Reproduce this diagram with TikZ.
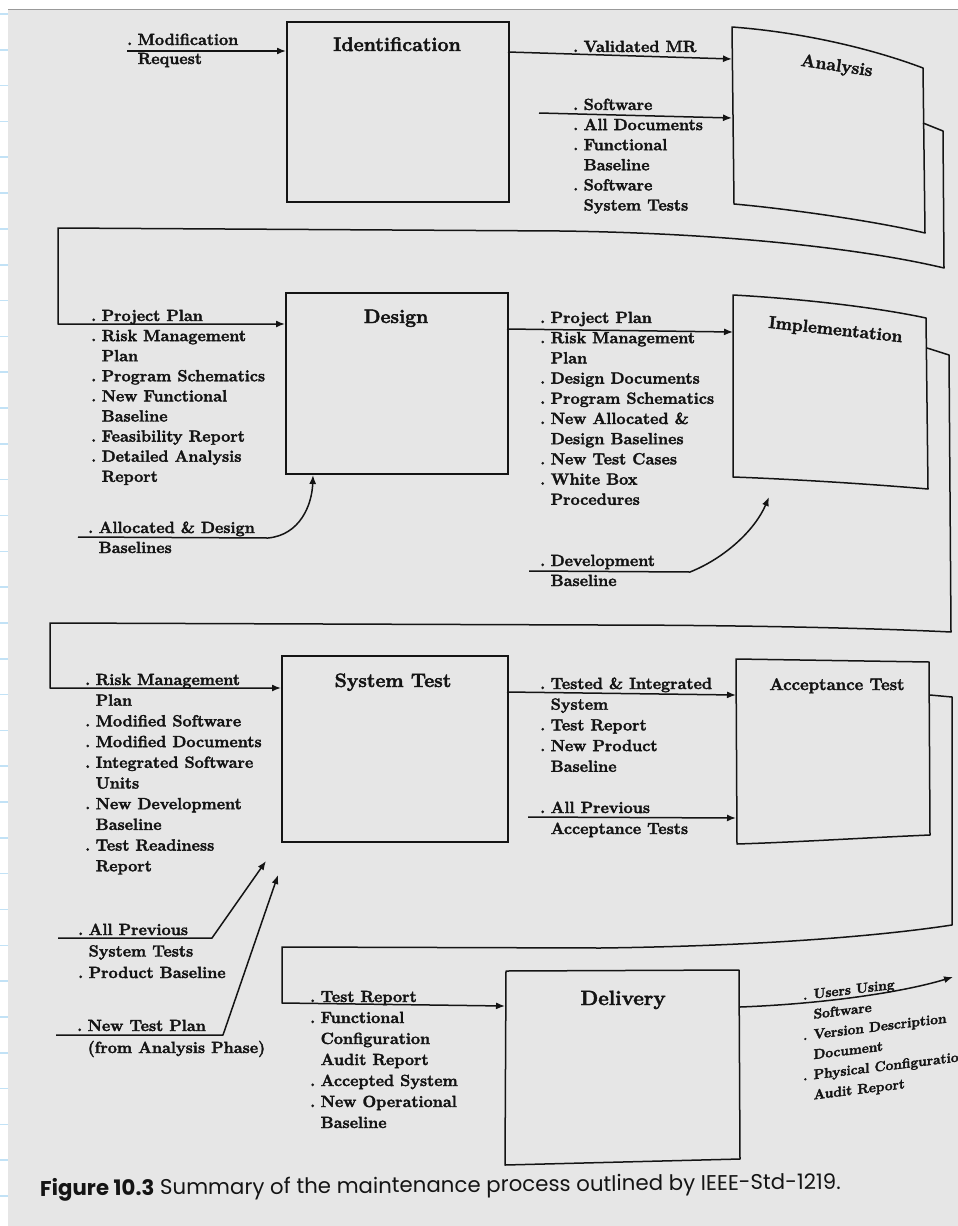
\documentclass[tikz,border=0pt]{standalone}
\usepackage{fontspec}
\newfontfamily\capfont{Poppins}
\newfontfamily\itf{Latin Modern Roman}[BoldFeatures={FakeBold=2.2}]
\usetikzlibrary{arrows.meta}
\definecolor{bg}{HTML}{E6E6E6}
\definecolor{ink}{HTML}{141414}
\definecolor{tickc}{HTML}{C2E2F6}
\newcommand{\dt}{\makebox[10.5pt][l]{.}}
\newcommand{\ct}{\hspace*{10.5pt}}
\newcommand{\fs}[2]{\itf\fontsize{#1}{#2}\selectfont\bfseries}
\newcommand{\lines}[1]{\begin{tabular}[t]{@{}l@{}}#1\end{tabular}}
\begin{document}
\begin{tikzpicture}[x=1pt,y=-1pt,
  ln/.style={draw=ink, line width=1.5pt, line join=round},
  arr/.style={ln, -{Latex[length=9pt,width=7pt]}},
  boxn/.style={draw=ink, line width=1.5pt, anchor=north west, inner sep=0pt},
  lst/.style={anchor=base west, inner sep=0pt, text=ink},
  ttl/.style={anchor=base, inner sep=0pt, text=ink},
  tickl/.style={draw=tickc, line width=1.6pt}]
\useasboundingbox (0,0) rectangle (958,1226);
\fill[white] (0,0) rectangle (958,1226);
\fill[bg] (8,10) rectangle (958,1226);
\draw[black!40, line width=1pt] (8,9.5) -- (958,9.5);
\foreach \i in {0,...,33} \draw[tickl] (0,14+35.82*\i) -- (8,14+35.82*\i);

% ---------- boxes ----------
\node[boxn, minimum width=222pt, minimum height=180pt] (ident) at (286,21) {};
\node[boxn, minimum width=222pt, minimum height=181pt] (design) at (285,292) {};
\node[boxn, minimum width=226pt, minimum height=186pt] (systest) at (281,655) {};

% Analysis (curved page with shadow)
\coordinate (anTL) at (732,27); \coordinate (anTR) at (923,68);
\coordinate (anBR) at (925,233); \coordinate (anBL) at (734,204);
\draw[ln] (anTL) .. controls (800,32) and (870,48) .. (anTR) -- (anBR)
  .. controls (870,220) and (780,208) .. (anBL) -- cycle;
\coordinate (anS1) at (923,123); \coordinate (anS2) at (943,131);
\coordinate (anS3) at (944,268); \coordinate (r1m) at (560,231);
\coordinate (r1a) at (58,228); \coordinate (r1b) at (58,324);
\draw[arr] (anS1) -- (anS2) -- (anS3) .. controls (860,248) and (720,233) .. (r1m)
  -- (r1a) -- (r1b) -- (r1b -| design.west);

% Implementation
\coordinate (imTL) at (733,295); \coordinate (imTR) at (926,318);
\coordinate (imBR) at (928,489); \coordinate (imBL) at (733,477);
\draw[ln] (imTL) .. controls (790,298) and (870,306) .. (imTR) -- (imBR)
  .. controls (870,484) and (790,479) .. (imBL) -- cycle;
\coordinate (imS1) at (927,348); \coordinate (imS2) at (949,355);
\coordinate (imS3) at (951,632); \coordinate (r2m) at (600,625);
\coordinate (r2a) at (50,623); \coordinate (r2b) at (50,688);
\draw[arr] (imS1) -- (imS2) -- (imS3) .. controls (850,627) and (700,625) .. (r2m)
  -- (r2a) -- (r2b) -- (r2b -| systest.west);

% Acceptance Test
\coordinate (acTL) at (736,659); \coordinate (acTR) at (929,662);
\coordinate (acBR) at (930,835); \coordinate (acBL) at (737,844);
\draw[ln] (acTL) -- (acTR) -- (acBR) .. controls (860,838) and (800,842) .. (acBL) -- cycle;
\coordinate (acS1) at (930,695); \coordinate (acS2) at (952,697);
\coordinate (acS3) at (952,925); \coordinate (r3m) at (600,948);
\coordinate (r3a) at (282,947); \coordinate (r3b) at (282,1003);
\coordinate (dlIn) at (505,1006);

% Delivery
\coordinate (dlTL) at (506,971); \coordinate (dlTR) at (739,970);
\coordinate (dlBR) at (740,1159); \coordinate (dlBL) at (505,1165);
\draw[ln] (dlTL) -- (dlTR) -- (dlBR) -- (dlBL) -- cycle;
\draw[arr] (acS1) -- (acS2) -- (acS3) .. controls (880,936) and (760,946) .. (r3m)
  -- (r3a) -- (r3b) -- (dlIn);

% ---------- titles ----------
\node[ttl, font=\fs{19.6}{24}] (tIdent) at (397,51) {Identification};
\node[ttl, font=\fs{17.5}{21}, rotate=-8.5] (tAnal) at (836,71) {Analysis};
\node[ttl, font=\fs{19.4}{24}] (tDesign) at (396,323) {Design};
\node[ttl, font=\fs{17.3}{21}, rotate=-6.2] (tImpl) at (835,335) {Implementation};
\node[ttl, font=\fs{19.4}{24}] (tSys) at (393,687) {System Test};
\node[ttl, font=\fs{16.8}{21}] (tAcc) at (837,690) {Acceptance Test};
\node[ttl, font=\fs{20.6}{24}] (tDel) at (623,1005) {Delivery};

% ---------- connectors ----------
\coordinate (modS) at (127,51);
\draw[arr] (modS) -- (modS -| ident.west);
\coordinate (valS) at (508,52); \coordinate (valE) at (732,59);
\draw[arr] (valS) -- (valE);
\coordinate (swS) at (539,113); \coordinate (swE) at (732,118);
\draw[arr] (swS) -- (swE);
\coordinate (dsS) at (507,329); \coordinate (dsE) at (733,332);
\draw[arr] (dsS) -- (dsE);
\coordinate (alS) at (78,537); \coordinate (alK) at (268,538); \coordinate (alE) at (313,475);
\draw[arr] (alS) -- (alK) .. controls (300,535) and (312,505) .. (alE);
\coordinate (dvS) at (529,571); \coordinate (dvK) at (690,572); \coordinate (dvE) at (769,497);
\draw[arr] (dvS) -- (dvK) .. controls (725,558) and (755,530) .. (dvE);
\coordinate (tiS) at (507,692); \coordinate (tiE) at (736,695);
\draw[arr] (tiS) -- (tiE);
\coordinate (paS) at (528,817); \coordinate (paE) at (736,818);
\draw[arr] (paS) -- (paE);
\coordinate (psS) at (58,938); \coordinate (psK) at (212,938); \coordinate (psE) at (266,861);
\draw[arr] (psS) -- (psK) -- (psE);
\coordinate (ntS) at (56,1035); \coordinate (ntK) at (223,1035); \coordinate (ntE) at (278,875);
\draw[arr] (ntS) -- (ntK) -- (ntE);
\coordinate (outS) at (740,1007); \coordinate (outE) at (953,977);
\draw[arr] (outS) .. controls (820,1004) and (900,993) .. (outE);

% ---------- texts ----------
\node[lst, font=\fs{16.2}{19}] (xMod) at (127,45) {\lines{\dt Modification\\\ct Request}};
\node[lst, font=\fs{16.2}{20}] (xVal) at (573,52) {\dt Validated MR};
\node[lst, font=\fs{16.2}{20.1}] (xSw) at (573,110) {\lines{\dt Software\\\dt All Documents\\\dt Functional\\\ct Baseline\\\dt Software\\\ct System Tests}};
\node[lst, font=\fs{16.2}{20.1}] (xDes) at (91,321) {\lines{\dt Project Plan\\\dt Risk Management\\\ct Plan\\\dt Program Schematics\\\dt New Functional\\\ct Baseline\\\dt Feasibility Report\\\dt Detailed Analysis\\\ct Report}};
\node[lst, font=\fs{16.2}{20}] (xAll) at (88,533) {\lines{\dt Allocated \& Design\\\ct Baselines}};
\node[lst, font=\fs{16.2}{20.2}] (xImp) at (540,323) {\lines{\dt Project Plan\\\dt Risk Management\\\ct Plan\\\dt Design Documents\\\dt Program Schematics\\\dt New Allocated \&\\\ct Design Baselines\\\dt New Test Cases\\\dt White Box\\\ct Procedures}};
\node[lst, font=\fs{16.2}{20}] (xDev) at (540,566) {\lines{\dt Development\\\ct Baseline}};
\node[lst, font=\fs{16.2}{20.7}] (xST) at (85,685) {\lines{\dt Risk Management\\\ct Plan\\\dt Modified Software\\\dt Modified Documents\\\dt Integrated Software\\\ct Units\\\dt New Development\\\ct Baseline\\\dt Test Readiness\\\ct Report}};
\node[lst, font=\fs{16.2}{21.5}] (xAPS) at (78,935) {\lines{\dt All Previous\\\ct System Tests\\\dt Product Baseline}};
\node[lst, font=\fs{16.2}{22}] (xNTP) at (77,1031) {\lines{\dt New Test Plan\\\ct (from Analysis Phase)}};
\node[lst, font=\fs{16.2}{20.7}] (xTI) at (540,689) {\lines{\dt Tested \& Integrated\\\ct System\\\dt Test Report\\\dt New Product\\\ct Baseline}};
\node[lst, font=\fs{16.2}{21}] (xAPA) at (540,813) {\lines{\dt All Previous\\\ct Acceptance Tests}};
\node[lst, font=\fs{16.2}{21}] (xDl) at (310,1002) {\lines{\dt Test Report\\\dt Functional\\\ct Configuration\\\ct Audit Report\\\dt Accepted System\\\dt New Operational\\\ct Baseline}};
\node[lst, font=\fs{13.8}{20}, rotate=7, xslant=0.1228] (xOut) at (803,1000) {\lines{\dt Users Using\\\ct Software\\\dt Version Description\\\ct Document\\\dt Physical Configuration\\\ct Audit Report}};

% ---------- caption ----------
\node[anchor=base west, inner sep=0pt, text=ink, rotate=0.5,
  font=\capfont\fontsize{21.3}{24}\selectfont] (cap) at (40,1196)
  {\textbf{Figure 10.3} Summary of the maintenance process outlined by IEEE-Std-1219.};
\end{tikzpicture}
\end{document}
